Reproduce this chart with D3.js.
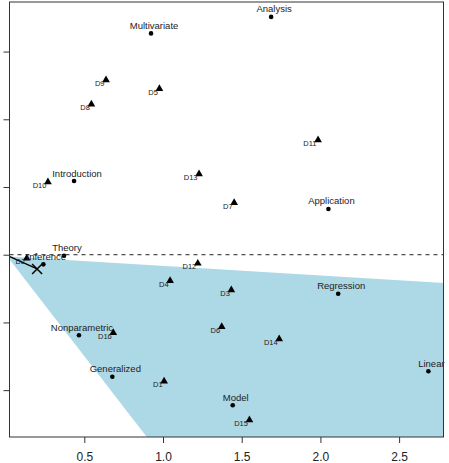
<!DOCTYPE html>
<html>
<head>
<meta charset="utf-8">
<script src="https://cdn.jsdelivr.net/npm/d3@7"></script>
<style>
  body { margin: 0; background: #fff; }
  svg { display: block; font-family: "Liberation Sans", Arial, sans-serif; }
</style>
</head>
<body>
<div id="chart"></div>
<script>
// word points (dots)
const words = ["Analysis", "Multivariate", "Introduction", "Application", "Theory", "Inference",
  "Regression", "Nonparametric", "Generalized", "Linear", "Model"];
const wordX = [1.687, 0.924, 0.435, 2.051, 0.371, 0.240, 2.113, 0.466, 0.678, 2.686, 1.443];
const wordY = [1.756, 1.634, 0.544, 0.338, -0.008, -0.071, -0.288, -0.595, -0.901, -0.861, -1.112];

// document points (triangles)
const docs = ["D1", "D2", "D3", "D4", "D5", "D6", "D7", "D8", "D9", "D10", "D11", "D12", "D13", "D14", "D15", "D16"];
const docX = [1.007, 0.134, 1.434, 1.045, 0.977, 1.373, 1.452, 0.545, 0.638, 0.269, 1.985, 1.221, 1.229, 1.738, 1.549, 0.684];
const docY = [-0.935, -0.027, -0.261, -0.192, 1.226, -0.532, 0.384, 1.111, 1.290, 0.537, 0.847, -0.064, 0.596, -0.623, -1.221, -0.576];

// shaded region and query vector
const regionX = [0.01, 3.0, 3.0, 1.332];
const regionY = [-0.012, -0.225, -2.0, -2.0];
const queryX = [0, 0.2];
const queryY = [0, -0.105];

const xTicks = [0.5, 1.0, 1.5, 2.0, 2.5];
const yTicks = [-1, -0.5, 0, 0.5, 1, 1.5];

const width = 449, height = 463;
const margin = { top: 2, right: 5.5, bottom: 26, left: 9.5 };

const x = d3.scaleLinear().domain([0.0248, 2.782]).range([margin.left, width - margin.right]);
const y = d3.scaleLinear().domain([-1.346, 1.866]).range([height - margin.bottom, margin.top]);

const svg = d3.select("#chart").append("svg")
  .attr("width", width)
  .attr("height", height);

svg.append("clipPath").attr("id", "plotclip")
  .append("rect")
  .attr("x", margin.left).attr("y", margin.top)
  .attr("width", width - margin.left - margin.right)
  .attr("height", height - margin.top - margin.bottom);

const plot = svg.append("g").attr("clip-path", "url(#plotclip)");

// region
plot.append("path")
  .datum(regionX.map((d, i) => [d, regionY[i]]))
  .attr("d", d3.line().x(d => x(d[0])).y(d => y(d[1])).curve(d3.curveLinearClosed))
  .attr("fill", "lightblue");

// zero line
plot.append("line")
  .attr("x1", x.range()[0]).attr("x2", x.range()[1])
  .attr("y1", y(0)).attr("y2", y(0))
  .attr("stroke", "#222").attr("stroke-dasharray", "4,4");

// query line + X marker
plot.append("line")
  .attr("x1", x(queryX[0])).attr("y1", y(queryY[0]))
  .attr("x2", x(queryX[1])).attr("y2", y(queryY[1]))
  .attr("stroke", "#000").attr("stroke-width", 1.3);
const qx = x(queryX[1]), qy = y(queryY[1]), s = 5;
plot.append("path")
  .attr("d", `M${qx - s},${qy - s}L${qx + s},${qy + s}M${qx - s},${qy + s}L${qx + s},${qy - s}`)
  .attr("stroke", "#000").attr("stroke-width", 1.5).attr("fill", "none");

// documents
const tri = d3.symbol().type(d3.symbolTriangle).size(26);
const docG = svg.append("g");
docG.selectAll("path")
  .data(docs)
  .enter().append("path")
  .attr("d", tri)
  .attr("transform", (d, i) => "translate(" + x(docX[i]) + "," + y(docY[i]) + ")")
  .attr("fill", "#000");
docG.selectAll("text")
  .data(docs)
  .enter().append("text")
  .attr("x", (d, i) => x(docX[i]) - 1.5)
  .attr("y", (d, i) => y(docY[i]) + 6)
  .attr("text-anchor", "end")
  .attr("font-size", 7.5)
  .attr("fill", "#222")
  .text(d => d);

// words
const wordG = svg.append("g");
wordG.selectAll("circle")
  .data(words)
  .enter().append("circle")
  .attr("cx", (d, i) => x(wordX[i]))
  .attr("cy", (d, i) => y(wordY[i]))
  .attr("r", 2.3)
  .attr("fill", "#000");
wordG.selectAll("text")
  .data(words)
  .enter().append("text")
  .attr("x", (d, i) => x(wordX[i]) + 3)
  .attr("y", (d, i) => y(wordY[i]) - 4.5)
  .attr("text-anchor", "middle")
  .attr("font-size", 9.5)
  .attr("fill", "#222")
  .text(d => d);

// axes
const xAxis = svg.append("g")
  .attr("transform", "translate(0," + (height - margin.bottom) + ")")
  .call(d3.axisBottom(x).tickValues(xTicks).tickSize(6).tickPadding(9.5).tickFormat(d3.format(".1f")));
xAxis.select(".domain").remove();
xAxis.selectAll("text").attr("font-size", 12).attr("fill", "#222").attr("font-family", "Liberation Sans, Arial, sans-serif");
xAxis.selectAll("line").attr("stroke", "#333");

const yAxis = svg.append("g")
  .attr("transform", "translate(" + margin.left + ",0)")
  .call(d3.axisLeft(y).tickValues(yTicks).tickSize(6).tickFormat(""));
yAxis.select(".domain").remove();
yAxis.selectAll("line").attr("stroke", "#333");

// box
svg.append("rect")
  .attr("x", margin.left).attr("y", margin.top)
  .attr("width", width - margin.left - margin.right)
  .attr("height", height - margin.top - margin.bottom)
  .attr("fill", "none").attr("stroke", "#333");
</script>
</body>
</html>
